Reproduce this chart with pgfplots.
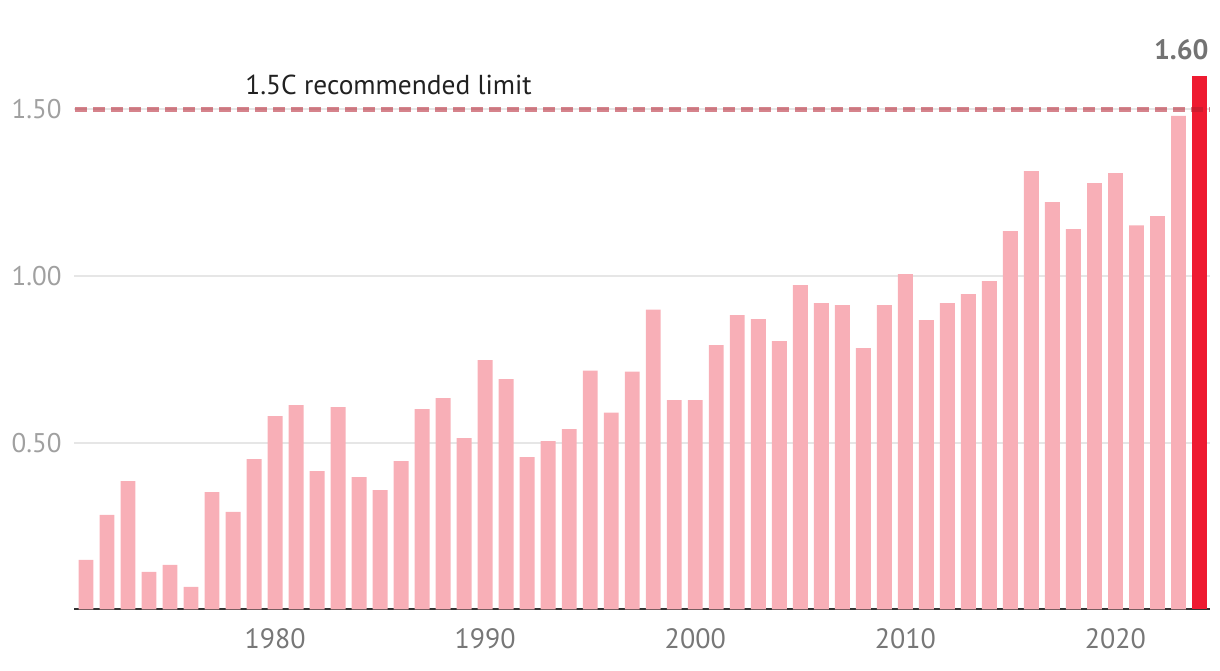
\documentclass[border=0pt]{standalone}
\usepackage{fontspec}
\setmainfont{PT Sans}
\usepackage{pgfplots}
\pgfplotsset{compat=1.18}
\definecolor{barpink}{HTML}{F8AFB7}
\definecolor{barred}{HTML}{EE1B31}
\definecolor{limitcol}{HTML}{B41E2D}
\definecolor{gridcol}{HTML}{E6E6E6}
\definecolor{xlab}{HTML}{777777}
\definecolor{ylab}{HTML}{A0A0A0}
\begin{document}
\begin{tikzpicture}
\path[use as bounding box] (-37pt,-30.35pt) rectangle (573pt,304.65pt);
\begin{axis}[
  at={(0,0)}, anchor=south west,
  scale only axis,
  width=568pt, height=266.6pt,
  xmin=1970.43, xmax=2024.5,
  ymin=0, ymax=1.6,
  clip=false,
  axis x line=bottom, axis y line=left,
  x axis line style={-, draw=black!80, line width=1pt},
  y axis line style={draw=none},
  major tick length=0pt,
  xtick={1980,1990,2000,2010,2020},
  ytick={0.5,1,1.5},
  ymajorgrids, grid style={gridcol, line width=1pt},
  /pgf/number format/assume math mode=true,
  x tick label style={/pgf/number format/1000 sep={}, font=\fontsize{14}{16}\selectfont, text=xlab, anchor=north, inner sep=0pt, yshift=-9.5pt},
  y tick label style={/pgf/number format/fixed, /pgf/number format/fixed zerofill, /pgf/number format/precision=2, font=\fontsize{13.5}{16}\selectfont, text=ylab, anchor=east, inner sep=0pt, xshift=-6pt},
]
\addplot[ybar, bar width=0.71, bar shift=0pt, fill=barpink, draw=none] coordinates {
(1971,0.148) (1972,0.283) (1973,0.385) (1974,0.112) (1975,0.133) (1976,0.067)
(1977,0.352) (1978,0.292) (1979,0.451) (1980,0.580) (1981,0.613) (1982,0.415)
(1983,0.607) (1984,0.397) (1985,0.358) (1986,0.445) (1987,0.601) (1988,0.634)
(1989,0.514) (1990,0.748) (1991,0.691) (1992,0.457) (1993,0.505) (1994,0.541)
(1995,0.716) (1996,0.590) (1997,0.713) (1998,0.899) (1999,0.628) (2000,0.628)
(2001,0.793) (2002,0.883) (2003,0.871) (2004,0.805) (2005,0.973) (2006,0.919)
(2007,0.913) (2008,0.784) (2009,0.913) (2010,1.006) (2011,0.868) (2012,0.919)
(2013,0.946) (2014,0.985) (2015,1.135) (2016,1.315) (2017,1.222) (2018,1.141)
(2019,1.279) (2020,1.309) (2021,1.152) (2022,1.180) (2023,1.481)
};
\addplot[ybar, bar width=0.71, bar shift=0pt, fill=barred, draw=none] coordinates {(2024,1.600)};
\addplot[limitcol, opacity=0.55, line width=2.5pt, dash pattern=on 6pt off 3pt] coordinates {(1970.5,1.5) (2024.5,1.5)};
\node[anchor=base west, inner sep=0pt, text=black!87, font=\fontsize{13.7}{16}\selectfont] at (axis cs:1978.57,1.5435) {1.5C recommended limit};
\node[anchor=base east, inner sep=0pt, text=black!55, font=\bfseries\fontsize{14}{16}\selectfont] at (axis cs:2024.45,1.6) [yshift=8.5pt] {1.60};
\end{axis}
\end{tikzpicture}
\end{document}
